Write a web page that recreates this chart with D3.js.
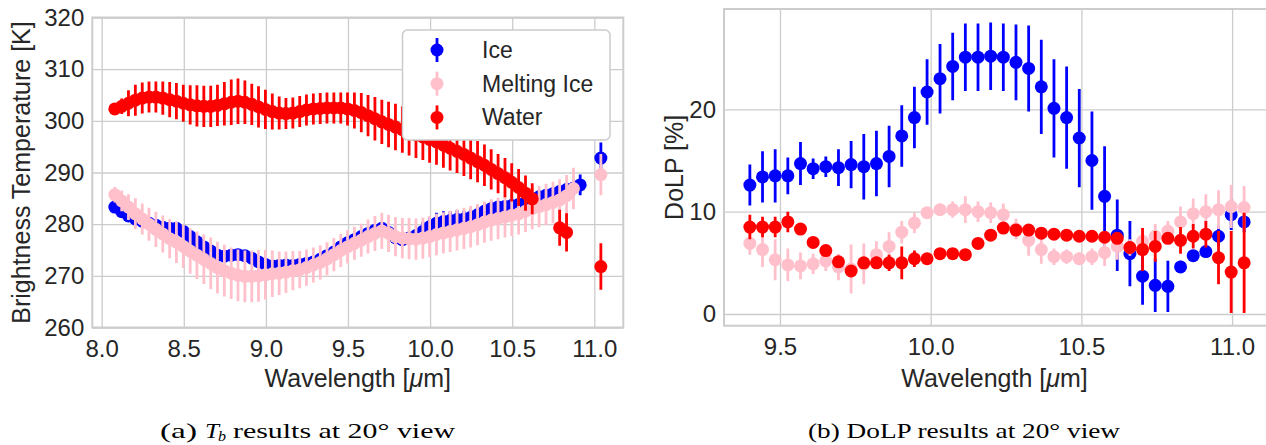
<!DOCTYPE html>
<html>
<head>
<meta charset="utf-8">
<script src="https://cdn.jsdelivr.net/npm/d3@7"></script>
<style>
  body { margin: 0; background: #fff; }
  text { font-family: "Liberation Sans", Arial, sans-serif; fill: #262626; }
  .caption { font-family: "Liberation Serif", "DejaVu Serif", serif; fill: #000; }
</style>
</head>
<body>
<svg id="chart" width="1266" height="445"></svg>
<script>
// ---- (a) brightness temperature data ----
const tbWavelength = [8.080, 8.122, 8.163, 8.205, 8.247, 8.288, 8.330, 8.372, 8.414, 8.455,
  8.497, 8.539, 8.580, 8.622, 8.664, 8.705, 8.747, 8.789, 8.830, 8.872,
  8.914, 8.955, 8.997, 9.039, 9.081, 9.122, 9.164, 9.206, 9.247, 9.289,
  9.331, 9.372, 9.414, 9.456, 9.497, 9.539, 9.581, 9.622, 9.664, 9.706,
  9.747, 9.789, 9.831, 9.872, 9.914, 9.956, 9.997, 10.039, 10.081, 10.122,
  10.164, 10.206, 10.247, 10.289, 10.331, 10.372, 10.414, 10.456, 10.497, 10.539,
  10.581, 10.622, 10.664, 10.706, 10.748, 10.789, 10.831, 10.873, 10.914, 10.956,
  10.998, 11.040]

const tbIce = [283.3, 282.4, 281.6, 281.0, 280.6, 280.2, 279.8, 279.4, 279.2, 279.2,
  278.6, 277.6, 276.6, 275.6, 274.8, 274.0, 273.8, 274.0, 274.1, 273.9,
  273.4, 272.7, 272.2, 271.9, 272.0, 272.1, 272.0, 272.2, 272.4, 272.7,
  273.2, 273.9, 274.6, 275.6, 276.4, 277.0, 277.6, 278.2, 278.8, 279.2,
  278.4, 277.4, 277.0, 277.3, 277.8, 278.6, 279.5, 280.2, 280.5, 280.7,
  280.9, 281.0, 281.3, 281.8, 282.5, 283.0, 283.3, 283.4, 283.6, 283.8,
  284.2, 284.8, 285.3, 285.6, 285.9, 286.3, 286.7, 287.0, 287.6, null,
  null, 292.8]
const tbIceErr = [0.8, 0.8, 0.8, 0.8, 0.8, 0.8, 0.8, 0.8, 0.8, 0.8,
  0.8, 0.8, 0.8, 0.8, 0.8, 0.8, 0.8, 0.8, 0.8, 0.8,
  0.8, 0.8, 0.8, 0.8, 0.8, 0.8, 0.8, 0.8, 0.8, 0.8,
  0.8, 0.8, 0.8, 0.8, 0.8, 0.8, 0.8, 0.8, 0.8, 0.8,
  0.8, 0.8, 0.8, 0.8, 1.2, 1.8, 1.8, 2.0, 2.0, 1.8,
  1.8, 1.6, 1.6, 1.5, 1.5, 1.4, 1.2, 1.2, 1.2, 1.2,
  1.2, 1.2, 1.2, 1.2, 1.2, 1.2, 1.2, 1.5, 2.0, null,
  null, 3.0]

const tbMelt = [285.7, 284.5, 283.3, 282.0, 281.0, 280.0, 279.0, 278.1, 277.2, 276.5,
  275.7, 274.8, 274.0, 273.2, 272.4, 271.6, 271.0, 270.5, 270.1, 269.9,
  269.9, 270.0, 270.2, 270.4, 270.5, 270.7, 271.0, 271.2, 271.6, 272.1,
  272.6, 273.3, 274.1, 274.9, 275.6, 276.3, 276.9, 277.6, 278.2, 278.7,
  278.2, 277.6, 277.3, 277.2, 277.1, 277.3, 277.6, 278.0, 278.3, 278.6,
  278.9, 279.2, 279.5, 279.9, 280.4, 280.8, 281.1, 281.4, 281.7, 282.0,
  282.5, 283.0, 283.4, 283.8, 284.2, 284.7, 285.5, 286.9, null, null,
  null, 289.6]
const tbMeltErr = [1.5, 2.0, 2.5, 3.0, 3.0, 3.2, 3.4, 3.6, 3.8, 4.0,
  4.2, 4.4, 4.6, 4.8, 5.0, 5.0, 5.0, 5.0, 5.0, 5.0,
  5.0, 5.0, 4.8, 4.5, 4.2, 4.0, 3.8, 3.6, 3.5, 3.4,
  3.3, 3.2, 3.2, 3.2, 3.2, 3.2, 3.2, 3.3, 3.4, 3.5,
  3.6, 3.8, 3.9, 4.0, 4.0, 4.0, 4.0, 4.0, 4.0, 4.0,
  4.0, 4.0, 4.0, 4.0, 4.0, 4.0, 4.0, 4.0, 4.0, 4.0,
  4.0, 4.0, 4.0, 4.0, 4.0, 4.0, 4.0, 4.0, null, null,
  null, 4.0]

const tbWater = [302.3, 302.8, 303.4, 304.0, 304.4, 304.6, 304.6, 304.4, 304.1, 303.8,
  303.4, 303.1, 302.9, 302.8, 302.8, 303.0, 303.3, 303.6, 303.8, 303.6,
  303.2, 302.7, 302.2, 301.8, 301.5, 301.4, 301.5, 301.8, 302.1, 302.3,
  302.4, 302.5, 302.5, 302.5, 302.3, 302.0, 301.6, 301.0, 300.4, 299.8,
  299.3, 298.8, 298.3, 297.8, 297.3, 296.9, 296.4, 295.9, 295.3, 294.7,
  294.1, 293.5, 292.8, 292.1, 291.4, 290.6, 289.8, 289.0, 288.1, 287.1,
  286.0, 284.9, null, null, null, 279.3, 278.4, null, null, null,
  null, 271.8]
const tbWaterErr = [0.8, 1.5, 2.5, 3.0, 3.0, 3.0, 3.0, 3.2, 3.4, 3.5,
  3.6, 3.8, 4.0, 4.0, 4.0, 4.0, 4.2, 4.4, 4.4, 4.2,
  4.0, 4.0, 3.8, 3.5, 3.2, 3.0, 3.0, 3.0, 3.0, 3.0,
  3.0, 3.0, 3.0, 3.0, 3.2, 3.5, 3.8, 4.0, 4.2, 4.3,
  4.4, 4.5, 4.5, 4.5, 4.5, 4.5, 4.5, 4.4, 4.4, 4.3,
  4.2, 4.2, 4.1, 4.0, 4.0, 3.9, 3.8, 3.8, 3.7, 3.6,
  3.4, 3.0, null, null, null, 3.5, 3.7, null, null, null,
  null, 4.5]

// ---- (b) DoLP data ----
const dolpWavelength = [9.400, 9.442, 9.484, 9.526, 9.568, 9.610, 9.652, 9.694, 9.736, 9.778,
  9.820, 9.862, 9.904, 9.946, 9.988, 10.031, 10.073, 10.115, 10.157, 10.199,
  10.241, 10.283, 10.325, 10.367, 10.409, 10.451, 10.493, 10.535, 10.577, 10.619,
  10.661, 10.703, 10.745, 10.787, 10.829, 10.871, 10.913, 10.955, 10.997, 11.040]

const dolpIce = [12.6, 13.4, 13.5, 13.5, 14.7, 14.2, 14.4, 14.3, 14.6, 14.4,
  14.7, 15.4, 17.4, 19.2, 21.7, 23.0, 24.2, 25.1, 25.1, 25.2,
  25.1, 24.6, 24.0, 22.2, 20.1, 19.2, 17.2, 15.0, 11.5, 7.7,
  5.9, 3.7, 2.8, 2.7, 4.6, 5.7, 6.1, 7.6, 9.7, 9.0]
const dolpIceErr = [2.0, 2.5, 2.6, 1.8, 2.1, 1.0, 1.0, 1.8, 2.3, 3.2,
  3.2, 3.0, 3.0, 3.0, 3.2, 3.4, 3.3, 3.3, 3.3, 3.3,
  3.3, 3.7, 4.2, 4.6, 4.8, 5.0, 4.8, 4.8, 4.9, 3.5,
  3.2, 2.8, 2.6, 2.5, 0.6, 0.5, 0.5, 1.0, 1.5, 1.0]

const dolpMelt = [6.9, 6.3, 5.3, 4.8, 4.7, 4.9, 5.2, 4.6, 4.4, 4.9,
  5.8, 6.6, 8.0, 8.9, 9.9, 10.2, 10.2, 10.2, 10.0, 9.9,
  9.7, 8.3, 7.2, 6.3, 5.6, 5.6, 5.4, 5.6, 6.0, 6.6,
  6.5, 7.1, 7.6, 8.1, 9.0, 9.8, 10.0, 10.2, 10.5, 10.4]
const dolpMeltErr = [1.1, 1.7, 2.0, 1.6, 1.3, 1.0, 1.0, 1.3, 2.4, 2.0,
  1.3, 1.4, 1.1, 1.0, 0.5, 0.6, 0.8, 1.3, 1.0, 1.0,
  1.1, 1.0, 1.5, 1.4, 0.8, 0.7, 0.6, 0.8, 1.3, 1.3,
  0.8, 1.3, 1.2, 1.0, 1.5, 1.5, 1.7, 1.9, 2.1, 2.1]

const dolpWater = [8.5, 8.5, 8.5, 9.0, 8.3, 7.0, 6.2, 5.1, 4.2, 5.0,
  5.0, 5.0, 5.0, 5.4, 5.4, 5.9, 5.9, 5.8, 6.9, 7.7,
  8.4, 8.2, 8.2, 7.9, 7.8, 7.7, 7.6, 7.6, 7.5, 7.4,
  6.5, 6.3, 6.6, 7.4, 7.2, 7.6, 7.8, 5.5, 4.1, 5.0]
const dolpWaterErr = [1.2, 1.0, 1.0, 1.0, 0.3, 0.3, 0.3, 0.3, 0.3, 0.3,
  0.6, 0.8, 1.6, 0.8, 0.3, 0.3, 0.3, 0.3, 0.3, 0.3,
  0.3, 0.3, 0.3, 0.5, 0.5, 0.5, 0.5, 0.5, 0.5, 0.5,
  0.6, 2.1, 1.5, 0.5, 1.3, 1.2, 1.3, 2.6, 4.0, 4.9]

const seriesNames = ["Ice", "Melting Ice", "Water"]
const seriesColors = ["#0000ff", "#ffc0cb", "#ff0000"]
const tbTicksX = [8.0, 8.5, 9.0, 9.5, 10.0, 10.5, 11.0]
const tbTicksY = [260, 270, 280, 290, 300, 310, 320]
const dolpTicksX = [9.5, 10.0, 10.5, 11.0]
const dolpTicksY = [0, 10, 20]

const svg = d3.select("#chart")
svg.append("rect").attr("width", 1266).attr("height", 445).attr("fill", "#fff")

const gridColor = "#cccccc"
const markerR = 6.5

function drawPanel(cfg) {
  const xScale = d3.scaleLinear().domain(cfg.xDomain).range([cfg.left, cfg.right])
  const yScale = d3.scaleLinear().domain(cfg.yDomain).range([cfg.bottom, cfg.top])

  const g = svg.append("g")
  const clipId = "clip-" + cfg.id
  svg.append("clipPath").attr("id", clipId)
    .append("rect")
      .attr("x", cfg.left).attr("y", cfg.top)
      .attr("width", cfg.right - cfg.left).attr("height", cfg.bottom - cfg.top)

  // grid
  const xAxis = d3.axisBottom(xScale)
    .tickValues(cfg.ticksX)
    .tickSize(-(cfg.bottom - cfg.top))
    .tickPadding(12)
    .tickFormat(d3.format(".1f"))
  const xg = g.append("g")
    .attr("transform", `translate(0,${cfg.bottom})`)
    .call(xAxis)
  xg.select(".domain").remove()
  xg.selectAll("line").attr("stroke", gridColor).attr("stroke-width", 1.3)
  xg.selectAll("text").attr("font-size", 24).attr("fill", "#262626")
    .attr("font-family", "Liberation Sans, Arial, sans-serif")

  const yAxis = d3.axisLeft(yScale)
    .tickValues(cfg.ticksY)
    .tickSize(-(cfg.right - cfg.left))
    .tickPadding(8)
    .tickFormat(d3.format("d"))
  const yg = g.append("g")
    .attr("transform", `translate(${cfg.left},0)`)
    .call(yAxis)
  yg.select(".domain").remove()
  yg.selectAll("line").attr("stroke", gridColor).attr("stroke-width", 1.3)
  yg.selectAll("text").attr("font-size", 24).attr("fill", "#262626")
    .attr("font-family", "Liberation Sans, Arial, sans-serif")

  // frame
  g.append("rect")
    .attr("x", cfg.left).attr("y", cfg.top)
    .attr("width", cfg.right - cfg.left).attr("height", cfg.bottom - cfg.top)
    .attr("fill", "none").attr("stroke", gridColor).attr("stroke-width", 2)

  // series: error bars first, then markers on top
  const plot = g.append("g").attr("clip-path", `url(#${clipId})`)
  cfg.series.forEach((s, i) => {
    const pts = cfg.wavelength
      .map((w, k) => ({ w: w, v: s.values[k], e: s.errors[k] }))
      .filter(d => d.v !== null)
    const sg = plot.append("g")
    sg.selectAll("line")
      .data(pts)
      .join("line")
        .attr("x1", d => xScale(d.w))
        .attr("x2", d => xScale(d.w))
        .attr("y1", d => yScale(d.v - d.e))
        .attr("y2", d => yScale(d.v + d.e))
        .attr("stroke", seriesColors[i])
        .attr("stroke-width", 2.8)
    sg.selectAll("circle")
      .data(pts)
      .join("circle")
        .attr("cx", d => xScale(d.w))
        .attr("cy", d => yScale(d.v))
        .attr("r", markerR)
        .attr("fill", seriesColors[i])
  })

  // axis labels
  g.append("text")
    .attr("x", (cfg.left + cfg.right) / 2 + (cfg.xLabelShift || 0))
    .attr("y", 387)
    .attr("text-anchor", "middle")
    .attr("font-size", 25)
    .html('Wavelength [<tspan font-style="italic">μ</tspan>m]')

  g.append("text")
    .attr("transform", `translate(${cfg.yLabelX},${(cfg.top + cfg.bottom) / 2}) rotate(-90)`)
    .attr("text-anchor", "middle")
    .attr("font-size", 25)
    .text(cfg.yLabel)

  return { xScale, yScale }
}

drawPanel({
  id: "tb",
  left: 92.3, right: 623.3, top: 17.5, bottom: 327.5,
  xDomain: [7.9428, 11.1766], yDomain: [260, 320],
  ticksX: tbTicksX, ticksY: tbTicksY,
  wavelength: tbWavelength,
  series: [
    { values: tbIce, errors: tbIceErr },
    { values: tbMelt, errors: tbMeltErr },
    { values: tbWater, errors: tbWaterErr }
  ],
  yLabel: "Brightness Temperature [K]",
  yLabelX: 30,
  xLabelShift: 0
})

drawPanel({
  id: "dolp",
  left: 724, right: 1269, top: 9, bottom: 325.7,
  xDomain: [9.3142, 11.1225], yDomain: [-1.144, 29.81],
  ticksX: dolpTicksX, ticksY: dolpTicksY,
  wavelength: dolpWavelength,
  series: [
    { values: dolpIce, errors: dolpIceErr },
    { values: dolpMelt, errors: dolpMeltErr },
    { values: dolpWater, errors: dolpWaterErr }
  ],
  yLabel: "DoLP [%]",
  yLabelX: 683,
  xLabelShift: -2
})

// legend
const legend = svg.append("g")
legend.append("rect")
  .attr("x", 402.5).attr("y", 30).attr("width", 207.5).attr("height", 110)
  .attr("rx", 5)
  .attr("fill", "#fff").attr("stroke", gridColor).attr("stroke-width", 1.5)
seriesNames.forEach((name, i) => {
  const cy = 50 + i * 33.7
  legend.append("line")
    .attr("x1", 437).attr("x2", 437)
    .attr("y1", cy - 12).attr("y2", cy + 12)
    .attr("stroke", seriesColors[i]).attr("stroke-width", 2.8)
  legend.append("circle")
    .attr("cx", 437).attr("cy", cy).attr("r", markerR)
    .attr("fill", seriesColors[i])
  legend.append("text")
    .attr("x", 482).attr("y", cy)
    .attr("dy", "0.35em")
    .attr("font-size", 23)
    .text(name)
})

// captions, serif, stretched to the width of the reference's captions
function caption(txt, x, y, w, opts) {
  const t = svg.append("text")
    .attr("class", "caption")
    .attr("x", x).attr("y", y)
    .attr("font-size", (opts && opts.size) || 22)
    .attr("textLength", w)
    .attr("lengthAdjust", "spacingAndGlyphs")
    .text(txt)
  if (opts && opts.italic) t.attr("font-style", "italic")
  return t
}
caption("(a)", 160, 438, 37)
caption("T", 205, 438, 14, { italic: true })
caption("b", 218, 441, 8, { italic: true, size: 15 })
caption("results at 20° view", 233, 438, 222)
caption("(b) DoLP results at 20° view", 808, 438, 312)
</script>
</body>
</html>
